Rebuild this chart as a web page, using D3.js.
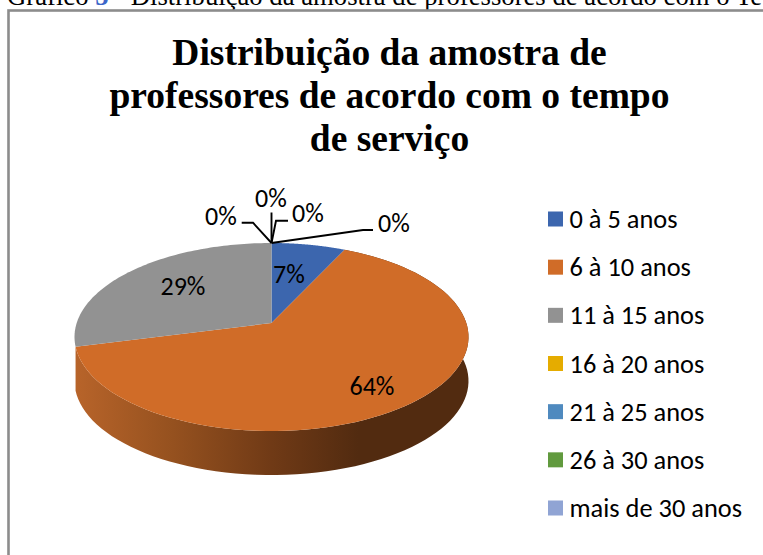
<!DOCTYPE html>
<html><head><meta charset="utf-8">
<style>html,body{margin:0;padding:0;background:#fff}svg{display:block}</style>
<script src="https://cdn.jsdelivr.net/npm/d3@7"></script></head>
<body><svg id="c" width="763" height="555"></svg>
<script>
const categories=["0 à 5 anos","6 à 10 anos","11 à 15 anos","16 à 20 anos","21 à 25 anos","26 à 30 anos","mais de 30 anos"];
const values=[7,64,29,0,0,0,0];
const colors=["#3c66ae","#d06c28","#929292","#e5ac00","#4f8abf","#619a3e","#90a4d4"];
const titleLines=["Distribuição da amostra de","professores de acordo com o tempo","de serviço"];
const wallStops=[[0,"#b8642a"],[0.25,"#95511f"],[0.5,"#703a16"],[0.72,"#522b10"],[1,"#522b10"]];

const svg=d3.select("#c");
const sans="Carlito,Calibri,'Open Sans','Noto Sans',sans-serif", serif="'Liberation Serif',serif";

// caption clipped by the top edge of the page
const cap=svg.append("text").attr("x",7).attr("y",4.5).attr("font-family",serif).attr("font-size",26.7).attr("fill","#000");
cap.append("tspan").text("Gráfico ");
cap.append("tspan").attr("fill","#3c66c8").attr("font-weight","bold").text("5");
cap.append("tspan").text(" - Distribuição da amostra de professores de acordo com o Te");

// frame
svg.append("rect").attr("x",8.5).attr("y",10.5).attr("width",800).attr("height",600).attr("fill","#fff").attr("stroke","#8c8c8c").attr("stroke-width",2.6);

// title
svg.append("g").selectAll("text").data(titleLines).join("text")
  .attr("x",389.5).attr("y",(d,i)=>65+i*43.2).attr("text-anchor","middle")
  .attr("font-family",serif).attr("font-weight","bold").attr("font-size",37.5).attr("fill","#000").text(d=>d);

// pie: perspective projection of a disc
const cx=271.5, cy=337, rx=197, ry=94, apexOff=-14, depth=44;
const c=apexOff/ry, dx=rx*Math.sqrt(1-c*c);
function proj(r,t){const u=r*Math.sin(t),v=-r*Math.cos(t),w=1+c*v;return [cx+dx*u/w, cy+(ry*v+apexOff)/w];}
const arcs=d3.pie().sort(null).value(d=>d)(values);
const line=d3.line();
const samples=(a,b)=>d3.range(0,1.0001,1/90).map(k=>proj(1,a+(b-a)*k));
const defs=svg.append("defs");
const g=defs.append("linearGradient").attr("id","wall").attr("gradientUnits","userSpaceOnUse").attr("x1",cx-rx).attr("x2",cx+rx).attr("y1",0).attr("y2",0);
g.selectAll("stop").data(wallStops).join("stop").attr("offset",d=>d[0]).attr("stop-color",d=>d[1]);

// side wall of the front slice
const o=arcs[1];
const front=samples(o.startAngle,o.endAngle);
const wall=front.concat(front.slice().reverse().map(p=>[p[0],p[1]+depth]));
svg.append("path").attr("d",line(wall)+"Z").attr("fill","url(#wall)");

// top faces
svg.append("g").selectAll("path").data(arcs.filter(a=>a.value>0)).join("path")
  .attr("d",a=>line([proj(0,0),...samples(a.startAngle,a.endAngle)])+"Z")
  .attr("fill",a=>colors[a.index]);

// labels
const sz=26;
const labelPos=[[289,274],[372,386],[183,286]];
const lab=svg.append("g").attr("font-family",sans).attr("font-size",sz).attr("fill","#000");
lab.selectAll("text.in").data(arcs.slice(0,3)).join("text").attr("class","in")
  .attr("x",(a,i)=>labelPos[i][0]).attr("y",(a,i)=>labelPos[i][1]+9).attr("text-anchor","middle").text(a=>a.value+"%");

// zero labels with leader lines
const zeros=[{i:3,x:221,y:216,pts:[[253,222.7],[241.7,222.7]]},{i:4,x:271,y:198,pts:[[271.5,212.5]]},{i:5,x:308,y:213,pts:[[276,220.7],[288,220.7]]},{i:6,x:394,y:223,pts:[[363,230],[373,230]]}];
const apex=proj(1,0);
lab.selectAll("path").data(zeros).join("path").attr("fill","none").attr("stroke","#000").attr("stroke-width",1.9)
  .attr("d",d=>line([apex,...d.pts]));
lab.selectAll("text.z").data(zeros).join("text").attr("class","z").attr("x",d=>d.x).attr("y",d=>d.y+9).attr("text-anchor","middle").text(d=>values[d.i]+"%");

// legend
const ly=d3.scalePoint().domain(categories).range([219,508]);
const leg=svg.append("g").selectAll("g").data(categories).join("g").attr("transform",d=>`translate(548,${ly(d)})`);
leg.append("rect").attr("y",-7.5).attr("width",15).attr("height",15).attr("fill",(d,i)=>colors[i]);
leg.append("text").attr("x",21.5).attr("y",9).attr("font-family",sans).attr("font-size",26.4).attr("fill","#000").text(d=>d);
</script></body></html>
